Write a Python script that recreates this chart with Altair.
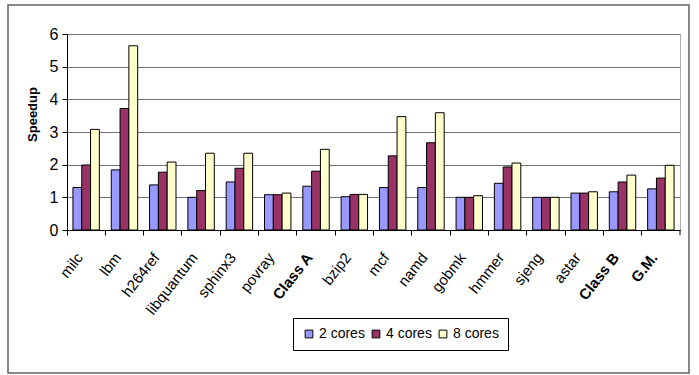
import altair as alt
import pandas as pd

categories = ["milc", "lbm", "h264ref", "libquantum", "sphinx3", "povray", "Class A",
              "bzip2", "mcf", "namd", "gobmk", "hmmer", "sjeng", "astar", "Class B", "G.M."]
series = ["2 cores", "4 cores", "8 cores"]
cores2 = [1.30, 1.84, 1.38, 1.00, 1.47, 1.08, 1.34, 1.02, 1.30, 1.30, 1.00, 1.43, 1.00, 1.13, 1.17, 1.26]
cores4 = [1.99, 3.72, 1.77, 1.21, 1.89, 1.08, 1.80, 1.09, 2.27, 2.67, 1.00, 1.93, 1.00, 1.13, 1.47, 1.59]
cores8 = [3.08, 5.64, 2.08, 2.35, 2.35, 1.13, 2.47, 1.09, 3.47, 3.59, 1.05, 2.05, 1.00, 1.17, 1.68, 1.98]
colors = ["#9999FF", "#993366", "#FFFFCC"]
bold_labels = ["Class A", "Class B", "G.M."]

rows = []
for i, c in enumerate(categories):
    for s, vals in zip(series, [cores2, cores4, cores8]):
        rows.append({"bench": c, "cfg": s, "speedup": vals[i]})
df = pd.DataFrame(rows)

FONT = "Liberation Sans, Arial, sans-serif"
bold_test = "indexof(" + str(bold_labels) + ", datum.value) >= 0"

bars = alt.Chart(df).mark_bar(stroke="black", strokeWidth=1).encode(
    x=alt.X("bench:N", sort=categories,
            scale=alt.Scale(paddingInner=0, paddingOuter=0),
            axis=alt.Axis(title=None, bandPosition=0, labelAngle=-52, labelAlign="right",
                          labelBaseline="top", labelOffset=-12, labelPadding=15,
                          labelFont=FONT, labelFontSize=15, labelColor="black",
                          labelFontWeight={"condition": {"test": bold_test, "value": "bold"}, "value": "normal"},
                          domainColor="black", tickColor="black", tickSize=5, grid=False,
                          labelOverlap=False)),
    xOffset=alt.XOffset("cfg:N", sort=series,
                        scale=alt.Scale(paddingInner=0, paddingOuter=0.675)),
    y=alt.Y("speedup:Q", scale=alt.Scale(domain=[0, 6], nice=False),
            axis=alt.Axis(title="Speedup", values=[0, 1, 2, 3, 4, 5, 6], format="d",
                          labelFont=FONT, labelFontSize=16, labelColor="black", labelPadding=4,
                          tickSize=5, tickColor="black", domainColor="black",
                          gridColor="#707070", gridWidth=1.2,
                          titleFont="Liberation Sans", titleFontSize=13, titleFontWeight="bold",
                          titleColor="black", titlePadding=10, titleY=80)),
    color=alt.Color("cfg:N", sort=series, scale=alt.Scale(domain=series, range=colors),
                    legend=alt.Legend(title=None, orient="none", legendX=226, legendY=284,
                                      direction="horizontal", strokeColor="black", padding=9,
                                      symbolType="square", symbolSize=60, symbolStrokeColor="black",
                                      symbolStrokeWidth=1, labelFont=FONT, labelFontSize=14,
                                      labelColor="black", columnPadding=4, labelOffset=3)),
)

end_tick = alt.Chart(pd.DataFrame({"a": [0]})).mark_rule(color="black").encode(
    x=alt.value(613), y=alt.value(196), y2=alt.value(201))

border = alt.Chart(pd.DataFrame({"a": [0]})).mark_rect(
    filled=False, stroke="#606060", strokeWidth=1.5
).encode(x=alt.value(-59), x2=alt.value(622), y=alt.value(-29), y2=alt.value(339))

chart = alt.layer(bars, end_tick, border).properties(
    width=613, height=196,
    autosize=alt.AutoSizeParams(type="none"),
    padding={"left": 67, "top": 34, "right": 19, "bottom": 145},
    background="white",
).configure_view(stroke="#b0b0b0", strokeWidth=1)

chart.save("out.html", embed_options={"renderer": "svg", "actions": False})
